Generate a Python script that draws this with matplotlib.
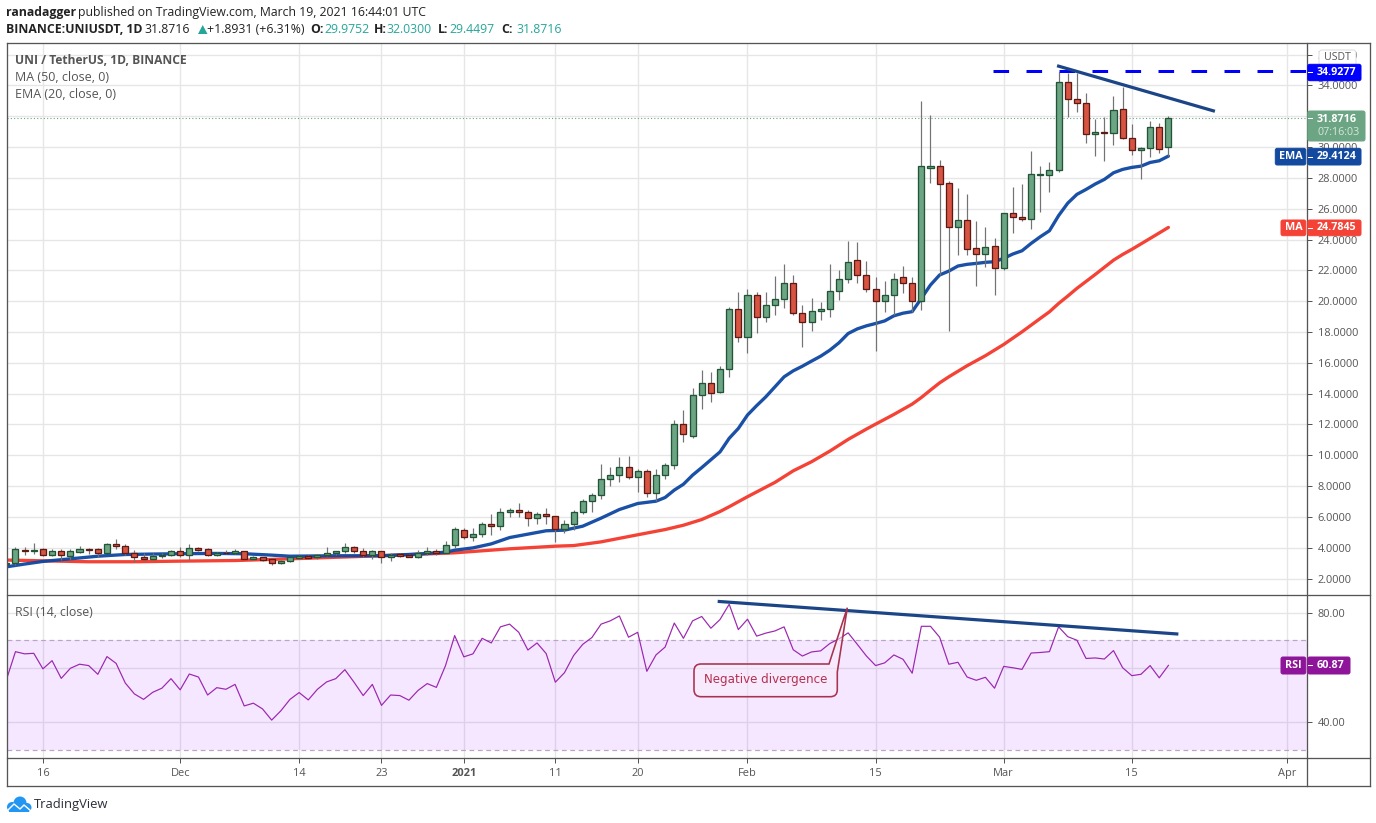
import numpy as np
import pandas as pd
import matplotlib
matplotlib.use("Agg")
import matplotlib.pyplot as plt
import matplotlib.dates as mdates
from matplotlib.patches import FancyBboxPatch, PathPatch, Polygon, Circle, Rectangle
from matplotlib.path import Path
from matplotlib.lines import Line2D
from matplotlib.transforms import Affine2D

# candles, 2020-11-12 .. 2021-03-19
days = pd.date_range("2020-11-12", "2021-03-19")
opens = [2.96,2.98,3.86,3.82,3.89,3.54,3.82,3.48,3.74,3.89,3.89,3.67,4.21,4.08,3.69,3.43,3.28,3.48,3.54,
         3.80,3.54,3.95,3.89,3.56,3.69,3.63,3.76,3.28,3.37,3.24,2.98,3.17,3.35,3.48,3.37,3.54,3.63,3.80,4.02,3.76,3.54,3.76,3.37,3.59,3.52,3.43,3.63,3.76,3.69,4.15,
         5.18,4.71,4.86,5.51,5.44,6.29,6.42,6.29,5.90,6.22,6.03,5.23,5.57,6.35,7.00,7.39,8.43,8.69,9.21,8.56,8.95,7.58,8.69,9.34,12.06,11.28,13.88,14.72,14.12,15.63,19.52,
         17.69,20.43,18.94,19.72,20.11,21.15,19.20,18.68,19.33,19.46,20.63,21.41,22.64,21.73,20.82,20.04,20.43,21.54,21.15,20.03,28.66,28.75,27.64,24.79,25.24,23.43,23.08,23.55,
         22.17,25.70,25.48,25.31,28.18,28.20,28.48,34.19,33.15,32.83,30.82,30.95,30.88,32.44,30.62,29.78,29.97,31.27,29.9752]
highs = [3.00,4.02,4.02,4.28,3.97,3.89,3.89,3.89,4.10,3.97,3.97,4.30,4.56,4.21,3.84,3.63,3.67,3.67,3.84,
         4.02,4.23,4.04,3.97,3.70,3.84,3.89,3.78,3.45,3.41,3.25,3.20,3.41,3.54,3.54,3.59,4.02,3.80,4.28,4.10,3.97,3.84,3.77,3.63,3.69,3.59,3.84,4.02,3.89,4.41,5.32,
         5.25,5.25,5.64,6.22,6.55,6.61,6.87,6.44,6.35,6.61,6.05,5.83,6.44,7.13,7.52,9.42,9.21,9.86,9.94,9.08,9.08,9.08,9.51,12.32,12.93,14.38,15.52,15.39,15.78,19.59,20.58,
         20.76,20.58,20.58,21.62,22.44,21.69,19.74,20.20,19.94,22.44,22.01,23.90,23.85,22.60,21.54,21.30,21.80,22.27,21.54,32.99,32.08,29.16,27.79,27.32,26.95,25.22,24.83,24.07,
         25.72,27.41,27.60,29.74,28.77,29.03,34.89,34.78,34.78,33.48,31.79,31.92,33.31,33.91,31.49,29.98,31.68,31.53,32.03]
lows = [2.90,2.87,3.52,3.59,3.48,3.48,3.20,3.20,3.67,3.59,3.41,3.63,3.91,3.52,3.09,3.15,3.20,3.33,3.45,
        3.41,3.20,3.80,3.45,3.45,3.59,3.59,3.26,3.20,3.17,2.89,2.96,3.07,3.28,3.28,3.24,3.45,3.56,3.63,3.67,3.37,3.28,3.02,3.15,3.39,3.39,3.35,3.54,3.50,3.63,3.97,
        4.58,4.45,4.71,4.84,5.14,6.01,6.01,5.42,5.57,5.53,4.38,4.97,5.18,6.22,6.33,7.17,8.02,8.25,8.47,7.61,7.30,7.02,8.47,9.12,10.85,11.13,13.01,13.45,14.05,15.09,17.34,
        16.65,17.95,18.66,19.11,19.57,19.11,17.04,18.05,18.79,18.98,20.07,21.19,21.19,20.61,16.78,19.31,19.09,20.54,19.31,19.42,27.69,21.70,18.08,22.99,22.99,20.98,22.24,20.40,
        22.02,24.42,25.20,24.68,25.78,27.08,28.35,31.97,32.29,30.28,29.43,29.11,30.15,30.54,29.48,27.94,29.37,29.63,29.4497]
closes = [2.98,3.89,3.82,3.85,3.54,3.82,3.50,3.76,3.89,3.85,3.67,4.21,4.08,3.67,3.43,3.28,3.48,3.54,3.82,
          3.54,3.95,3.87,3.56,3.69,3.65,3.76,3.28,3.37,3.22,2.98,3.17,3.37,3.48,3.35,3.54,3.69,3.76,4.02,3.76,3.56,3.76,3.37,3.56,3.48,3.43,3.63,3.76,3.65,4.15,5.19,
          4.71,4.86,5.51,5.42,6.29,6.42,6.29,5.90,6.22,6.03,5.23,5.57,6.35,7.00,7.39,8.43,8.69,9.21,8.56,8.95,7.58,8.69,9.34,12.06,11.35,13.88,14.72,14.07,15.63,19.52,17.69,
          20.43,18.94,19.72,20.11,21.15,19.20,18.62,19.33,19.52,20.63,21.41,22.57,21.73,20.82,20.04,20.43,21.47,21.15,20.04,28.75,28.75,27.62,24.79,25.24,23.40,23.08,23.49,22.17,
          25.70,25.48,25.31,28.23,28.23,28.49,34.19,33.15,32.83,30.82,30.95,30.88,32.38,30.62,29.78,29.97,31.27,29.89,31.8716]

ema_dates = ["2020-11-12","2020-11-14","2020-11-16","2020-11-19","2020-11-22","2020-11-25","2020-11-28","2020-12-01","2020-12-05","2020-12-08",
             "2020-12-11","2020-12-13","2020-12-18","2020-12-23","2020-12-27","2020-12-30","2020-12-31","2021-01-02","2021-01-04","2021-01-06",
             "2021-01-08","2021-01-10","2021-01-12","2021-01-14","2021-01-16","2021-01-18","2021-01-20","2021-01-22","2021-01-23","2021-01-24",
             "2021-01-25","2021-01-26","2021-01-27","2021-01-29","2021-01-30","2021-01-31","2021-02-01","2021-02-02","2021-02-03","2021-02-04",
             "2021-02-05","2021-02-06","2021-02-07","2021-02-08","2021-02-09","2021-02-10","2021-02-11","2021-02-12","2021-02-13","2021-02-14",
             "2021-02-15","2021-02-16","2021-02-17","2021-02-18","2021-02-19","2021-02-20","2021-02-21","2021-02-22","2021-02-23","2021-02-24",
             "2021-02-25","2021-02-26","2021-02-27","2021-02-28","2021-03-01","2021-03-02","2021-03-03","2021-03-04","2021-03-05","2021-03-06",
             "2021-03-07","2021-03-08","2021-03-09","2021-03-10","2021-03-11","2021-03-12","2021-03-13","2021-03-14","2021-03-15","2021-03-16",
             "2021-03-17","2021-03-18","2021-03-19"]
ema_values = [2.76,2.94,3.11,3.28,3.45,3.56,3.59,3.61,3.63,3.61,3.52,3.45,3.48,3.48,3.59,3.71,3.84,3.99,4.25,4.66,4.88,5.10,5.14,5.40,5.92,6.48,6.87,7.02,7.26,7.74,
              8.12,8.71,9.20,10.22,11.10,11.74,12.61,13.22,13.79,14.44,15.09,15.48,15.78,16.11,16.43,16.82,17.30,17.90,18.20,18.40,18.55,18.72,19.05,19.22,19.32,20.18,21.05,
              21.70,21.95,22.28,22.39,22.45,22.52,22.56,22.78,23.06,23.27,23.75,24.18,24.57,25.55,26.36,26.93,27.25,27.60,27.90,28.33,28.55,28.68,28.76,29.00,29.11,29.4124]

# MA 50
ma_dates = ["2020-11-12","2020-11-16","2020-11-21","2020-11-26","2020-12-01","2020-12-07","2020-12-14","2020-12-23","2020-12-31","2021-01-06",
            "2021-01-11","2021-01-13","2021-01-16","2021-01-20","2021-01-23","2021-01-25","2021-01-27","2021-01-29","2021-01-30","2021-02-01",
            "2021-02-04","2021-02-06","2021-02-08","2021-02-10","2021-02-12","2021-02-14","2021-02-15","2021-02-17","2021-02-19","2021-02-20",
            "2021-02-21","2021-02-22","2021-02-23","2021-02-25","2021-02-27","2021-03-01","2021-03-03","2021-03-05","2021-03-06","2021-03-07",
            "2021-03-08","2021-03-09","2021-03-11","2021-03-13","2021-03-14","2021-03-15","2021-03-17","2021-03-19"]
ma_values = [3.20,3.15,3.09,3.09,3.13,3.17,3.30,3.48,3.67,3.93,4.10,4.14,4.38,4.84,5.18,5.46,5.83,6.35,6.66,7.31,8.24,8.99,9.58,10.27,11.03,11.70,12.02,12.65,13.32,13.75,
             14.23,14.70,15.09,15.81,16.46,17.19,18.01,18.88,19.31,19.85,20.33,20.83,21.73,22.66,23.03,23.36,24.07,24.7845]

# RSI 14, one value per candle
rsi_values = [55.5,65.9,65.1,65.3,59.6,62.6,56.1,59.8,61.3,60.8,57.6,64.1,61.6,54.4,50.4,48.4,51.0,52.5,56.0,
              51.9,57.7,56.6,50.0,52.7,52.1,53.9,46.0,47.0,44.9,40.8,44.2,48.4,50.9,48.2,52.1,54.8,56.0,59.3,54.7,49.8,53.9,46.2,50.0,49.8,48.1,51.7,54.2,52.8,60.8,71.8,
              64.0,65.1,70.8,69.1,75.0,76.0,73.0,66.5,69.1,65.2,54.7,58.2,64.5,68.6,71.1,76.0,77.2,79.0,71.2,73.0,58.7,64.7,67.6,76.4,70.8,77.2,78.8,74.5,77.7,83.3,74.0,
              77.8,71.6,72.7,73.5,75.0,66.6,64.3,65.8,66.2,68.9,70.6,72.8,68.6,64.3,60.8,61.8,64.7,63.1,58.0,75.2,75.2,71.2,61.3,62.0,56.6,55.4,56.5,52.5,
              60.5,60.0,59.4,65.4,65.6,65.9,75.0,71.4,70.1,63.4,63.6,63.2,66.3,60.0,57.1,57.6,60.8,56.3,60.87]

# hand drawn lines on the chart
resist_dates = ["2021-03-07 00:00", "2021-03-23 22:00"]
resist_prices = [35.25, 32.35]
rsi_trend_dates = ["2021-01-28 22:00", "2021-03-19 22:00"]
rsi_trend_values = [84.3, 72.4]
level_price = 34.9277
level_start = "2021-02-27 20:00"
last_price = 31.8716

price_ticks = np.arange(2, 38, 2)
rsi_ticks = [80, 60, 40]
date_ticks = ["2020-11-16","2020-12-01","2020-12-14","2020-12-23","2021-01-01","2021-01-11","2021-01-20","2021-02-01","2021-02-15","2021-03-01","2021-03-15","2021-04-01"]
date_labels = ["16","Dec","14","23","2021","11","20","Feb","15","Mar","15","Apr"]

UP = "#6ba583"
DOWN = "#d75442"
UP_EDGE = "#225437"
DOWN_EDGE = "#5b1a13"
WICK = "#737375"
GRID = "#e6e6e6"
FRAME = "#555555"
TXT = "#555555"
BLUE = "#0d47a1"
RED = "#f44336"
PURPLE = "#8e1599"
W, H = 1376, 823
SANS = "Open Sans"
px = 0.72

plt.rcParams["font.family"] = [SANS, "DejaVu Sans"]
fig = plt.figure(figsize=(W / 100, H / 100), dpi=100, facecolor="white")
# pixel coordinates of the picture, y going down
pix = Affine2D().scale(1 / W, -1 / H).translate(0, 1) + fig.transFigure


def pane(top, bottom):
    return fig.add_axes([6.5 / W, 1 - bottom / H, (1307.3 - 6.5) / W, (bottom - top) / H])


ax = pane(43.5, 595.5)
ax2 = pane(595.5, 758)

mar1 = mdates.date2num(pd.Timestamp("2021-03-01"))
for a in (ax, ax2):
    a.set_xlim(mar1 - 108.98, mar1 + 33.18)
    a.set_xticks(mdates.date2num(pd.to_datetime(date_ticks)))
    a.grid(True, color=GRID, lw=1.4 * px, zorder=0)
    a.set_axisbelow(True)
    a.yaxis.tick_right()
    for s in a.spines.values():
        s.set_visible(False)
    a.tick_params(colors=TXT, labelcolor=TXT, length=3.5, width=1 * px, labelsize=11 * px, pad=4)

# price pane
ax.set_ylim(0.90, 36.72)
ax.set_yticks(price_ticks)
ax.set_yticklabels([f"{v:.4f}" for v in price_ticks])
ax.tick_params(axis="x", length=0, labelbottom=False)

x = mdates.date2num(days)
o = np.array(opens)
c = np.array(closes)
rising = c >= o
ax.plot(mdates.date2num(pd.to_datetime(ma_dates)), ma_values, color=RED, lw=3.3 * px, zorder=2, solid_capstyle="round")
ax.plot(mdates.date2num(pd.to_datetime(ema_dates)), ema_values, color=BLUE, lw=3.3 * px, alpha=0.95, zorder=2.1, solid_capstyle="round")
ax.vlines(x, lows, highs, color=WICK, lw=1.2 * px, zorder=3)
ax.bar(x[rising], (c - o)[rising], bottom=o[rising], width=0.66, color=UP, edgecolor=UP_EDGE, lw=1.3 * px, zorder=4)
ax.bar(x[~rising], (c - o)[~rising], bottom=o[~rising], width=0.66, color=DOWN, edgecolor=DOWN_EDGE, lw=1.3 * px, zorder=4)

ax.axhline(last_price, color=UP, lw=1.1 * px, ls=(0, (1, 2)), zorder=3)
ax.plot(mdates.date2num(pd.to_datetime([level_start, "2021-04-04 00:00"])), [level_price, level_price],
        color="#0000ff", lw=3 * px, ls=(0, (5.2, 5.8)), zorder=5)
ax.plot(mdates.date2num(pd.to_datetime(resist_dates)), resist_prices, color="#1c4587", lw=3.2 * px, zorder=5)

# rsi pane
ax2.set_ylim(26.9, 86.5)
ax2.set_yticks(rsi_ticks)
ax2.set_yticklabels(["80.00", "", "40.00"])
ax2.set_xticklabels(date_labels)
for lab in ax2.get_xticklabels():
    if lab.get_text() == "2021":
        lab.set_fontweight("bold")
ax2.axhspan(30, 70, color="#9915ff", alpha=0.10, lw=0, zorder=1)
ax2.axhline(70, color="#b9a6c4", lw=1.2 * px, ls=(0, (4, 3)), zorder=2)
ax2.axhline(30, color="#b9a6c4", lw=1.2 * px, ls=(0, (4, 3)), zorder=2)
ax2.plot(x, rsi_values, color="#9c27b0", lw=1.2 * px, zorder=3)
ax2.plot(mdates.date2num(pd.to_datetime(rsi_trend_dates)), rsi_trend_values, color="#1c4587", lw=3.2 * px, zorder=5)

# frame
for seg in [((6.5, 43.5), (1369.5, 43.5)), ((6.5, 786), (1369.5, 786)), ((6.5, 43.5), (6.5, 786)), ((1369.5, 43.5), (1369.5, 786)),
            ((1307.3, 43.5), (1307.3, 786)), ((6.5, 595.5), (1369.5, 595.5)), ((6.5, 758), (1369.5, 758))]:
    fig.add_artist(Line2D([seg[0][0], seg[1][0]], [seg[0][1], seg[1][1]], color=FRAME, lw=1.3 * px, transform=pix, zorder=3))


def put(xp, yp, s, size=12.2, color="#222222", weight="normal", ha="left", family=None, z=7):
    return fig.text(xp, yp, s, transform=pix, fontsize=size * px, color=color, fontweight=weight, ha=ha, va="center",
                    family=family if family else [SANS, "DejaVu Sans"], zorder=z)


def box(x0, y0, x1, y1, color, edge=None, r=2.0):
    p = FancyBboxPatch((x0 + r, y0 + r), x1 - x0 - 2 * r, y1 - y0 - 2 * r, boxstyle=f"round,pad={r},rounding_size={r}",
                       fc=color, ec=edge if edge else color, lw=1 * px, transform=pix, zorder=6)
    fig.add_artist(p)


def tag(y0, y1, right, color, value, name=None, left=None):
    box(1307.8, y0, right, y1, color)
    fig.add_artist(Line2D([1307.8, 1312], [(y0 + y1) / 2] * 2, color="white", lw=1 * px, transform=pix, zorder=7))
    put(1317, (y0 + y1) / 2 - 0.3, value, 10.8, "white", "bold")
    if name:
        box(left, y0, 1305.8, y1, color)
        put((left + 1305.8) / 2, (y0 + y1) / 2 - 0.3, name, 10.8, "white", "bold", ha="center")


# axis tags
box(1319, 50, 1356, 65.5, "white", "#dddddd", r=3)
put(1337.5, 57.7, "USDT", 10.5, TXT, ha="center")
tag(64.3, 80.7, 1361, "#0000ff", "34.9277")
box(1307.8, 111, 1365, 141, UP)
fig.add_artist(Line2D([1307.8, 1312], [118.5, 118.5], color="white", lw=1 * px, transform=pix, zorder=7))
put(1317, 119.7, "31.8716", 10.8, "white", "bold")
put(1317, 132.7, "07:16:03", 10.8, "#d6e6dc")
tag(148.3, 165, 1361, "#134a9f", "29.4124", "EMA", 1275.3)
tag(220, 235.7, 1361, RED, "24.7845", "MA", 1281)
tag(657, 674, 1350, PURPLE, "60.87", "RSI", 1281)

# header
put(6, 12.3, "ranadagger", 12.2, weight="bold")
put(77.8, 12.3, "published on TradingView.com, March 19, 2021 16:44:01 UTC", 12.2)
put(6, 29.3, "BINANCE:UNIUSDT, 1D", 12.2, weight="bold")
put(144, 29.3, "31.8716", 12.2)
fig.add_artist(Polygon([(198, 34), (207.5, 34), (202.7, 25)], fc="#26a69a", ec="none", transform=pix, zorder=7))
put(207, 29.3, "+1.8931 (+6.31%)", 12.2)
for xl, xv, lab, val in [(310, 324.5, "O:", "29.9752"), (374, 386, "H:", "32.0300"), (438, 449, "L:", "29.4497"), (501, 516, "C:", "31.8716")]:
    put(xl, 29.3, lab, 12.2, weight="bold")
    put(xv, 29.3, val, 12.2, color="#26a69a")

# study legends
put(15, 60.5, "UNI / TetherUS, 1D, BINANCE", 12.0, TXT, "bold")
put(15, 77.5, "MA (50, close, 0)", 12.5, TXT)
put(15, 94.5, "EMA (20, close, 0)", 12.5, TXT)
put(15, 612.5, "RSI (14, close)", 12.2, TXT)

# callout
l, r, t, b, q = 694.0, 837.3, 664.0, 696.7, 7.0
verts = [(l + q, t), (829, t), (847.3, 607.7), (r, t + 8), (r, b - q), (r, b), (r - q, b), (l + q, b), (l, b), (l, b - q), (l, t + q), (l, t), (l + q, t), (l + q, t)]
codes = [Path.MOVETO, Path.LINETO, Path.LINETO, Path.LINETO, Path.LINETO, Path.CURVE3, Path.CURVE3, Path.LINETO, Path.CURVE3, Path.CURVE3,
         Path.LINETO, Path.CURVE3, Path.CURVE3, Path.CLOSEPOLY]
fig.add_artist(PathPatch(Path(verts, codes), fc=(0.98, 0.93, 0.98, 0.55), ec="#a8324f", lw=1.6 * px, transform=pix, zorder=5))
put(765.5, 679.5, "Negative divergence", 11.9, "#b5304f", ha="center", family="DejaVu Sans")

# tradingview mark
for cx, cy, rad in [(12, 807, 5), (20, 803, 6.5), (27, 807.5, 4.5)]:
    fig.add_artist(Circle((cx, cy), rad, fc="#2196f3", ec="none", transform=pix, zorder=6))
fig.add_artist(Rectangle((9, 806), 20, 6, fc="#2196f3", ec="none", transform=pix, zorder=6))
fig.add_artist(Line2D([7, 14, 20, 24, 31], [811, 804, 809, 805, 811], color="white", lw=1.4 * px, transform=pix, zorder=7))
put(34, 804.5, "TradingView", 13, "#2a2e39")

fig.savefig("out.png", dpi=100, facecolor="white")
